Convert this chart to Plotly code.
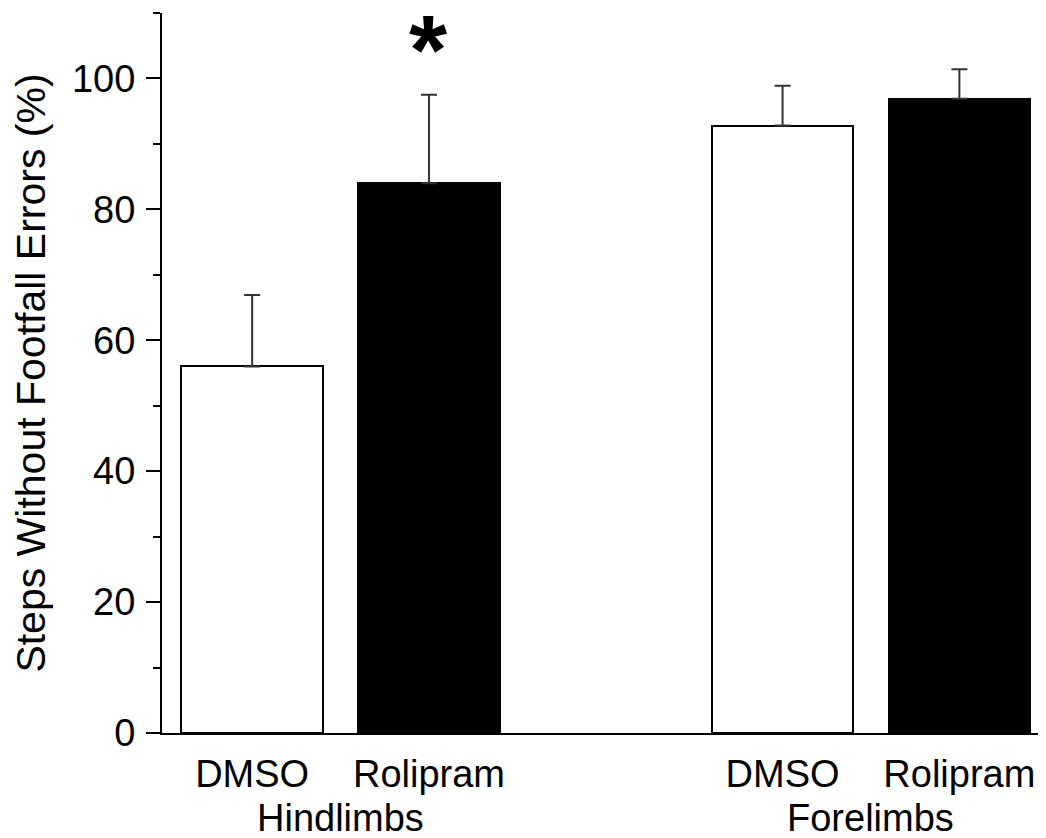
import plotly.graph_objects as go

groups = ["Hindlimbs", "Forelimbs"]
treatments = ["DMSO", "Rolipram", "DMSO", "Rolipram"]
positions = [1, 2, 4, 5]
values = [56, 84, 92.8, 96.9]
errors = [10.9, 13.5, 6.1, 4.5]
bar_colors = ["white", "black", "white", "black"]
group_pos = [1.5, 4.5]
yticks = [0, 20, 40, 60, 80, 100]

FONT = "Liberation Sans, Arial, sans-serif"

fig = go.Figure()
fig.add_trace(go.Bar(
    x=positions, y=values, width=0.8,
    marker=dict(color=bar_colors, line=dict(color="black", width=2)),
    error_y=dict(type="data", array=errors, arrayminus=[0]*4, symmetric=False,
                 color="#333333", thickness=2, width=8),
    showlegend=False,
))

for g, p in zip(groups, group_pos):
    fig.add_annotation(x=p, y=-0.118, xref="x", yref="paper", text=g,
                       showarrow=False, yanchor="middle",
                       font=dict(family=FONT, size=38, color="black"))

fig.add_annotation(x=2, y=104.4, xref="x", yref="y", text="<b>*</b>",
                   showarrow=False, yanchor="middle",
                   font=dict(family=FONT, size=98, color="black"))

fig.update_layout(
    width=1038, height=830,
    margin=dict(l=154, r=0, t=5, b=105),
    plot_bgcolor="white", paper_bgcolor="white",
    font=dict(family=FONT, size=38, color="black"),
    bargap=0,
)
fig.update_xaxes(
    range=[0.49, 5.49], tickvals=positions, ticktext=treatments,
    showline=True, linecolor="black", linewidth=2, ticks="",
    showgrid=False, zeroline=False, tickfont=dict(size=38),
    ticklabelstandoff=6, automargin=False,
)
fig.update_yaxes(
    range=[0, 110], tickvals=yticks, showline=True, linecolor="black",
    linewidth=2, ticks="outside", ticklen=14, tickwidth=2, tickcolor="black",
    minor=dict(dtick=10, ticks="outside", ticklen=7, tickwidth=2, tickcolor="black"),
    showgrid=False, zeroline=False, tickfont=dict(size=38), ticklabelstandoff=3,
    title=dict(text="Steps Without Footfall Errors (%)", font=dict(size=41), standoff=21),
    automargin=False,
)

fig.write_html("out.html")
